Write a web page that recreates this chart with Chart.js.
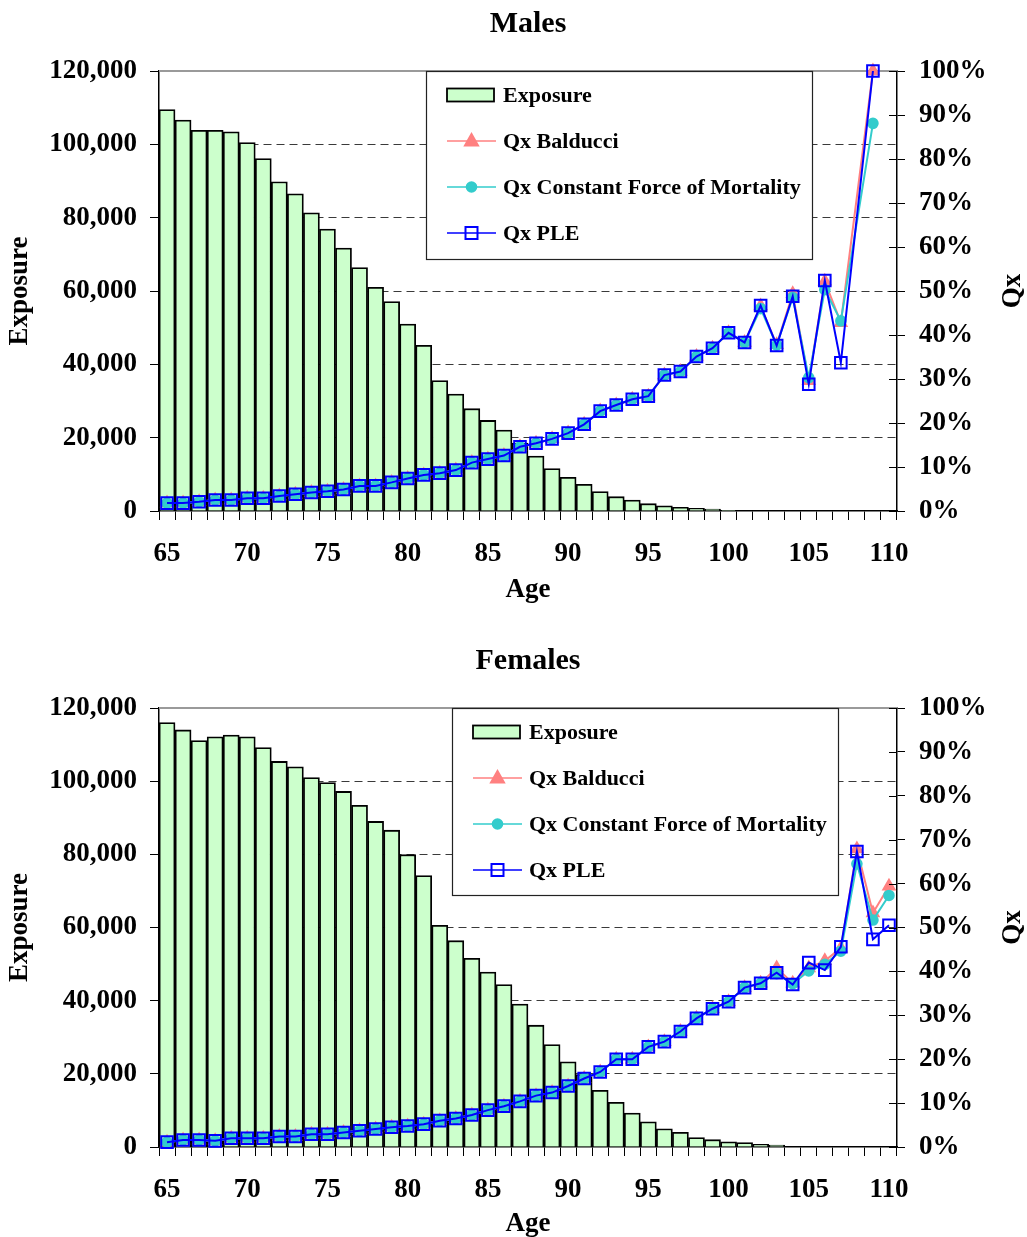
<!DOCTYPE html>
<html>
<head>
<meta charset="utf-8">
<title>Exposure and Qx by Age</title>
<script src="https://cdn.jsdelivr.net/npm/chart.js@4.4.1/dist/chart.umd.min.js"></script>
<style>
    html, body { margin: 0; padding: 0; background: #ffffff; overflow: hidden; }
    body { width: 1027px; height: 1237px; position: relative; }
    canvas { position: absolute; left: 0; display: block; }
    #males { top: 0; }
    #females { top: 637px; }
</style>
</head>
<body>
<canvas id="males" width="1027" height="620"></canvas>
<canvas id="females" width="1027" height="620"></canvas>
<script>
// ====== data ======
const ages = [
    65, 66, 67, 68, 69, 70, 71, 72, 73, 74,
    75, 76, 77, 78, 79, 80, 81, 82, 83, 84,
    85, 86, 87, 88, 89, 90, 91, 92, 93, 94,
    95, 96, 97, 98, 99, 100, 101, 102, 103, 104,
    105, 106, 107, 108, 109, 110
];
const ageTickLabels = [65, 70, 75, 80, 85, 90, 95, 100, 105, 110];
const exposureTicks = [0, 20000, 40000, 60000, 80000, 100000, 120000];
const qxTicks = [0, 0.1, 0.2, 0.3, 0.4, 0.5, 0.6, 0.7, 0.8, 0.9, 1.0];

const seriesNames = ['Exposure', 'Qx Balducci', 'Qx Constant Force of Mortality', 'Qx PLE'];
const leftAxisTitle = 'Exposure';
const rightAxisTitle = 'Qx';
const bottomAxisTitle = 'Age';

const maleExposure = [
    109500, 106600, 103800, 103800, 103400, 100500, 96100, 89800, 86500, 81300,
    76900, 71700, 66400, 61000, 57100, 51000, 45200, 35600, 31900, 27900,
    24700, 22100, 18500, 15000, 11600, 9200, 7300, 5300, 3900, 3000,
    2000, 1400, 1000, 700, 500, 100, 0, 0, 0, 0,
    0, 0, 0, 0, 0, 0
];
const maleQxBalducci = [
    0.018, 0.018, 0.021, 0.025, 0.025, 0.029, 0.029, 0.034, 0.038, 0.042,
    0.045, 0.049, 0.057, 0.057, 0.065, 0.074, 0.082, 0.086, 0.093, 0.110,
    0.118, 0.126, 0.146, 0.154, 0.164, 0.177, 0.197, 0.227, 0.241, 0.254,
    0.261, 0.309, 0.317, 0.351, 0.370, 0.405, 0.383, 0.466, 0.378, 0.494,
    0.296, 0.522, 0.428, null, 1.000, null
];
const maleQxConstant = [
    0.018, 0.018, 0.021, 0.025, 0.025, 0.029, 0.029, 0.034, 0.038, 0.042,
    0.045, 0.049, 0.057, 0.057, 0.065, 0.074, 0.082, 0.086, 0.093, 0.110,
    0.118, 0.126, 0.146, 0.154, 0.164, 0.177, 0.197, 0.227, 0.241, 0.254,
    0.261, 0.309, 0.317, 0.351, 0.370, 0.405, 0.383, 0.460, 0.377, 0.485,
    0.303, 0.503, 0.432, null, 0.881, null
];
const maleQxPle = [
    0.018, 0.018, 0.021, 0.025, 0.025, 0.029, 0.029, 0.034, 0.038, 0.042,
    0.045, 0.049, 0.057, 0.057, 0.065, 0.074, 0.082, 0.086, 0.093, 0.110,
    0.118, 0.126, 0.146, 0.154, 0.164, 0.177, 0.197, 0.227, 0.241, 0.254,
    0.261, 0.309, 0.317, 0.351, 0.370, 0.405, 0.383, 0.467, 0.376, 0.488,
    0.288, 0.524, 0.337, null, 1.000, null
];

const femaleExposure = [
    116000, 114000, 111100, 112100, 112600, 112100, 109200, 105400, 103900, 101000,
    99600, 97200, 93400, 89000, 86600, 79900, 74200, 60600, 56400, 51600,
    47800, 44400, 39100, 33300, 28000, 23300, 19800, 15500, 12200, 9300,
    6900, 5000, 4000, 2600, 2000, 1400, 1200, 700, 500, 0,
    0, 0, 0, 0, 0, 0
];
const femaleQxBalducci = [
    0.011, 0.016, 0.016, 0.014, 0.020, 0.020, 0.020, 0.024, 0.024, 0.029,
    0.029, 0.033, 0.037, 0.041, 0.045, 0.048, 0.052, 0.060, 0.065, 0.073,
    0.084, 0.093, 0.104, 0.117, 0.124, 0.139, 0.156, 0.171, 0.200, 0.200,
    0.228, 0.240, 0.263, 0.293, 0.315, 0.331, 0.363, 0.373, 0.408, 0.373,
    0.408, 0.424, 0.453, 0.679, 0.533, 0.594
];
const femaleQxConstant = [
    0.011, 0.016, 0.016, 0.014, 0.020, 0.020, 0.020, 0.024, 0.024, 0.029,
    0.029, 0.033, 0.037, 0.041, 0.045, 0.048, 0.052, 0.060, 0.065, 0.073,
    0.084, 0.093, 0.104, 0.117, 0.124, 0.139, 0.156, 0.171, 0.200, 0.200,
    0.228, 0.240, 0.263, 0.293, 0.315, 0.331, 0.363, 0.373, 0.395, 0.372,
    0.401, 0.416, 0.446, 0.645, 0.517, 0.573
];
const femaleQxPle = [
    0.011, 0.016, 0.016, 0.014, 0.020, 0.020, 0.020, 0.024, 0.024, 0.029,
    0.029, 0.033, 0.037, 0.041, 0.045, 0.048, 0.052, 0.060, 0.065, 0.073,
    0.084, 0.093, 0.104, 0.117, 0.124, 0.139, 0.156, 0.171, 0.200, 0.200,
    0.228, 0.240, 0.263, 0.293, 0.315, 0.331, 0.363, 0.373, 0.397, 0.370,
    0.420, 0.403, 0.456, 0.673, 0.473, 0.505
];

const colors = {
    barFill: '#CCFFCC',
    barEdge: '#000000',
    balducci: '#FF8080',
    constant: '#33CCCC',
    ple: '#0000FF',
    grid: '#3a3a3a',
    frameTop: '#9a9a9a'
};
const serif = '"Liberation Serif", "Times New Roman", serif';

Chart.defaults.font.family = serif;
Chart.defaults.font.weight = 'bold';
Chart.defaults.color = '#000000';

// markers for the legend box, same shapes as the line points
const drawMarker = (ctx, style, x, y, fill, stroke) => {
    ctx.beginPath();
    if (style === 'triangle') {
        ctx.moveTo(x, y - 7);
        ctx.lineTo(x + 6.5, y + 4.5);
        ctx.lineTo(x - 6.5, y + 4.5);
        ctx.closePath();
    } else if (style === 'circle') {
        ctx.arc(x, y, 4.8, 0, Math.PI * 2);
    } else {
        ctx.rect(x - 6, y - 6, 12, 12);
    }
    if (fill && fill !== 'transparent') {
        ctx.fillStyle = fill;
        ctx.fill();
    }
    ctx.lineWidth = 2;
    ctx.strokeStyle = stroke;
    ctx.stroke();
};

// legend drawn as a white box inside the plot area, like the spreadsheet one
const boxLegendPlugin = {
    id: 'boxLegend',
    afterDatasetsDraw(chart, args, opts) {
        const ctx = chart.ctx;
        const area = chart.chartArea;
        const x0 = area.left + opts.offsetX;
        const y0 = area.top;

        ctx.save();
        ctx.fillStyle = '#ffffff';
        ctx.fillRect(x0, y0, opts.width, opts.height);
        ctx.strokeStyle = '#222222';
        ctx.lineWidth = 1.2;
        ctx.strokeRect(x0 + 0.5, y0 + 0.5, opts.width, opts.height);

        ctx.font = `bold 22px ${serif}`;
        ctx.textBaseline = 'middle';
        ctx.textAlign = 'left';

        chart.data.datasets.forEach((ds, i) => {
            const y = y0 + 24 + 46 * i;
            const sx = x0 + 21;
            const ex = x0 + 70;
            if (ds.type === 'bar') {
                ctx.fillStyle = ds.backgroundColor;
                ctx.fillRect(sx, y - 6.5, ex - sx - 2, 13);
                ctx.strokeStyle = ds.borderColor;
                ctx.lineWidth = 1.8;
                ctx.strokeRect(sx, y - 6.5, ex - sx - 2, 13);
            } else {
                ctx.strokeStyle = ds.borderColor;
                ctx.lineWidth = 1.6;
                ctx.beginPath();
                ctx.moveTo(sx, y);
                ctx.lineTo(ex, y);
                ctx.stroke();
                drawMarker(ctx, ds.pointStyle, (sx + ex) / 2, y, ds.pointBackgroundColor, ds.pointBorderColor);
            }
            ctx.fillStyle = '#000000';
            ctx.fillText(ds.label, x0 + 77, y + 1);
        });
        ctx.restore();
    }
};

// grey top edge of the plot, inner ticks on the right axis, right axis title
const frameExtrasPlugin = {
    id: 'frameExtras',
    beforeDatasetsDraw(chart) {
        const ctx = chart.ctx;
        const a = chart.chartArea;
        ctx.save();
        ctx.strokeStyle = colors.frameTop;
        ctx.lineWidth = 2;
        ctx.beginPath();
        ctx.moveTo(a.left, a.top);
        ctx.lineTo(a.right, a.top);
        ctx.stroke();
        ctx.restore();
    },
    afterDraw(chart) {
        const ctx = chart.ctx;
        const a = chart.chartArea;
        const y1 = chart.scales.y1;
        ctx.save();
        ctx.strokeStyle = '#000000';
        ctx.lineWidth = 1;
        y1.ticks.forEach((t) => {
            const y = Math.round(y1.getPixelForValue(t.value)) + 0.5;
            ctx.beginPath();
            ctx.moveTo(a.right - 8, y);
            ctx.lineTo(a.right, y);
            ctx.stroke();
        });
        // the right title reads bottom-to-top, same as the left one
        ctx.translate(1013, (a.top + a.bottom) / 2);
        ctx.rotate(-Math.PI / 2);
        ctx.font = `bold 27px ${serif}`;
        ctx.textAlign = 'center';
        ctx.textBaseline = 'middle';
        ctx.fillStyle = '#000000';
        ctx.fillText(rightAxisTitle, 0, 0);
        ctx.restore();
    }
};

const createChart = (canvasId, title, exposure, balducci, constant, ple, opts) => {
    const canvas = document.getElementById(canvasId);
    const ctx = canvas.getContext('2d');

    const lineSet = (label, data, color, style, radius, fill, order) => ({
        type: 'line',
        label,
        data,
        yAxisID: 'y1',
        borderColor: color,
        borderWidth: 2,
        pointStyle: style,
        pointRadius: radius,
        pointBorderWidth: 2,
        pointBackgroundColor: fill,
        pointBorderColor: color,
        spanGaps: true,
        tension: 0,
        clip: false,
        order
    });

    return new Chart(ctx, {
        data: {
            labels: ages.map(String),
            datasets: [
                {
                    type: 'bar',
                    label: seriesNames[0],
                    data: exposure,
                    yAxisID: 'y',
                    backgroundColor: colors.barFill,
                    borderColor: colors.barEdge,
                    borderWidth: 1.8,
                    borderSkipped: 'bottom',
                    barPercentage: 1,
                    categoryPercentage: 1,
                    order: 10
                },
                lineSet(seriesNames[1], balducci, colors.balducci, 'triangle', 6.5, colors.balducci, 3),
                lineSet(seriesNames[2], constant, colors.constant, 'circle', 4.8, colors.constant, 2),
                lineSet(seriesNames[3], ple, colors.ple, 'rect', 8.2, 'transparent', 1)
            ]
        },
        options: {
            responsive: false,
            animation: false,
            layout: { padding: 0 },
            plugins: {
                legend: { display: false },
                tooltip: { enabled: false },
                title: {
                    display: true,
                    fullSize: false,
                    text: title,
                    color: '#000000',
                    font: { size: 30, weight: 'bold' },
                    padding: { top: 6, bottom: 29 }
                },
                boxLegend: opts.legend
            },
            scales: {
                x: {
                    type: 'category',
                    offset: true,
                    afterFit: (scale) => { scale.height = opts.xAxisHeight; },
                    grid: {
                        offset: true,
                        drawOnChartArea: false,
                        tickLength: 9,
                        tickColor: '#000000',
                        color: '#000000'
                    },
                    border: { color: '#000000', width: 1.5 },
                    ticks: {
                        autoSkip: false,
                        maxRotation: 0,
                        padding: 18,
                        font: { size: 27, weight: 'bold' },
                        color: '#000000',
                        callback: (value, index) => ageTickLabels.includes(ages[index]) ? String(ages[index]) : ''
                    },
                    title: {
                        display: true,
                        text: bottomAxisTitle,
                        color: '#000000',
                        font: { size: 27, weight: 'bold' },
                        padding: { top: 0, bottom: opts.ageTitlePad }
                    }
                },
                y: {
                    position: 'left',
                    min: exposureTicks[0],
                    max: exposureTicks[exposureTicks.length - 1],
                    afterFit: (scale) => { scale.width = 159; },
                    afterBuildTicks: (scale) => { scale.ticks = exposureTicks.map((v) => ({ value: v })); },
                    grid: {
                        color: (c) => {
                            const v = c.tick ? c.tick.value : null;
                            return (v === 0 || v === 120000) ? 'rgba(0,0,0,0)' : colors.grid;
                        },
                        lineWidth: 1,
                        tickLength: 9,
                        tickColor: '#000000'
                    },
                    border: { color: '#000000', width: 1.5, dash: [8, 5] },
                    ticks: {
                        padding: 13,
                        font: { size: 27, weight: 'bold' },
                        color: '#000000',
                        callback: (value) => Number(value).toLocaleString('en-US')
                    },
                    title: {
                        display: true,
                        text: leftAxisTitle,
                        color: '#000000',
                        font: { size: 27, weight: 'bold' },
                        padding: { top: 4, bottom: 0 }
                    }
                },
                y1: {
                    position: 'right',
                    min: qxTicks[0],
                    max: qxTicks[qxTicks.length - 1],
                    afterFit: (scale) => { scale.width = 130; },
                    afterBuildTicks: (scale) => { scale.ticks = qxTicks.map((v) => ({ value: v })); },
                    grid: {
                        drawOnChartArea: false,
                        tickLength: 8,
                        tickColor: '#000000',
                        color: '#000000'
                    },
                    border: { color: '#000000', width: 1.5 },
                    ticks: {
                        padding: 14,
                        font: { size: 27, weight: 'bold' },
                        color: '#000000',
                        callback: (value) => Math.round(value * 100) + '%'
                    }
                }
            }
        },
        plugins: [frameExtrasPlugin, boxLegendPlugin]
    });
};

createChart('males', 'Males', maleExposure, maleQxBalducci, maleQxConstant, maleQxPle, {
    xAxisHeight: 109,
    ageTitlePad: 14,
    legend: { offsetX: 267, width: 386, height: 188 }
});

createChart('females', 'Females', femaleExposure, femaleQxBalducci, femaleQxConstant, femaleQxPle, {
    xAxisHeight: 110,
    ageTitlePad: 17,
    legend: { offsetX: 293, width: 386, height: 187 }
});
</script>
</body>
</html>
